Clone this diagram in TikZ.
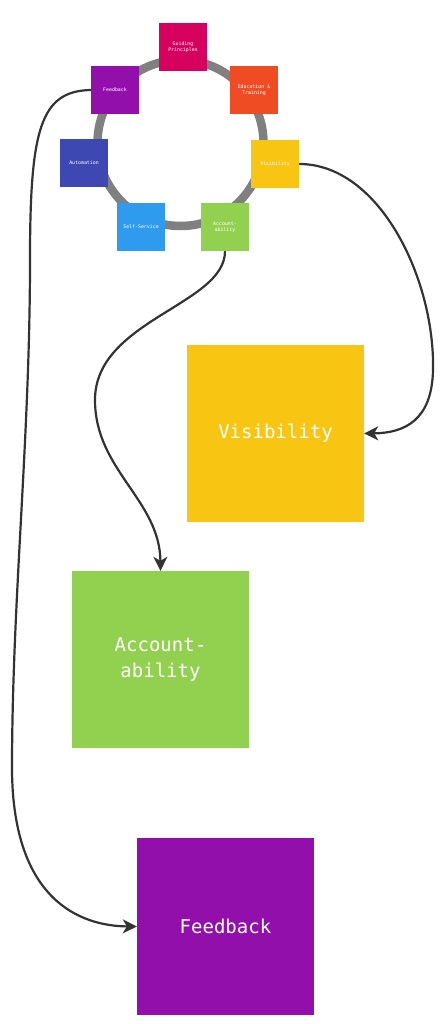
\documentclass[tikz,border=0pt]{standalone}
\usepackage{fontspec}
\setmonofont{DejaVu Sans Mono}
\usetikzlibrary{arrows.meta}
\definecolor{cGuide}{HTML}{D6005F}
\definecolor{cEdu}{HTML}{F04C24}
\definecolor{cVis}{HTML}{F8C512}
\definecolor{cAcc}{HTML}{92D14F}
\definecolor{cSelf}{HTML}{2E9BEE}
\definecolor{cAuto}{HTML}{3E48B2}
\definecolor{cFeed}{HTML}{930FAB}
\definecolor{cRing}{HTML}{808080}
\definecolor{cLine}{HTML}{333333}
\tikzset{
  smallbox/.style={minimum width=48pt, minimum height=48pt, inner sep=0pt, text=white,
    font=\ttfamily\fontsize{4.9}{6.5}\selectfont, align=center},
  bigbox/.style={minimum width=177pt, minimum height=177pt, inner sep=0pt, text=white,
    font=\ttfamily\fontsize{19}{26}\selectfont, align=center},
  conn/.style={draw=cLine, line width=2.2pt, -{Stealth[length=14pt,width=14pt,inset=4pt]}}
}
\begin{document}
\begin{tikzpicture}[x=1pt,y=-1pt]
\useasboundingbox (0,0) rectangle (445,1024);
\fill[white] (0,0) rectangle (445,1024);
\draw[cRing, line width=8.5pt] (180.5,143) circle (83);
\node[smallbox, fill=cGuide] (guide) at (183,47) {Guiding\\Principles};
\node[smallbox, fill=cEdu] (edu) at (254,90) {Education \&\\Training};
\node[smallbox, fill=cVis] (vis) at (275,164) {Visibility};
\node[smallbox, fill=cAcc] (acc) at (225,227) {Account-\\ability};
\node[smallbox, fill=cSelf] (self) at (141,227) {Self-Service};
\node[smallbox, fill=cAuto] (auto) at (84,163) {Automation};
\node[smallbox, fill=cFeed] (feed) at (115,90) {Feedback};
\node[bigbox, fill=cVis] (bvis) at (275.5,433.5) {Visibility};
\node[bigbox, fill=cAcc] (bacc) at (160.5,659.5) {Account-\\ability};
\node[bigbox, fill=cFeed] (bfeed) at (225.5,926.5) {Feedback};
\coordinate (v1) at (433,370);
\coordinate (a1) at (95,400);
\coordinate (f1) at (30,260);
\coordinate (f2) at (12,770);
\draw[conn] (vis.east) .. controls (380,164) and (435,280) .. (v1) .. controls (432,420) and (405,433) .. (bvis.east);
\draw[conn] (acc.south) .. controls (225,305) and (95,320) .. (a1) .. controls (95,470) and (160,500) .. (bacc.north);
\draw[conn] (feed.west) .. controls (40,91) and (30,130) .. (f1) .. controls (30,440) and (12,600) .. (f2) .. controls (13,900) and (80,926) .. (bfeed.west);
\end{tikzpicture}
\end{document}
